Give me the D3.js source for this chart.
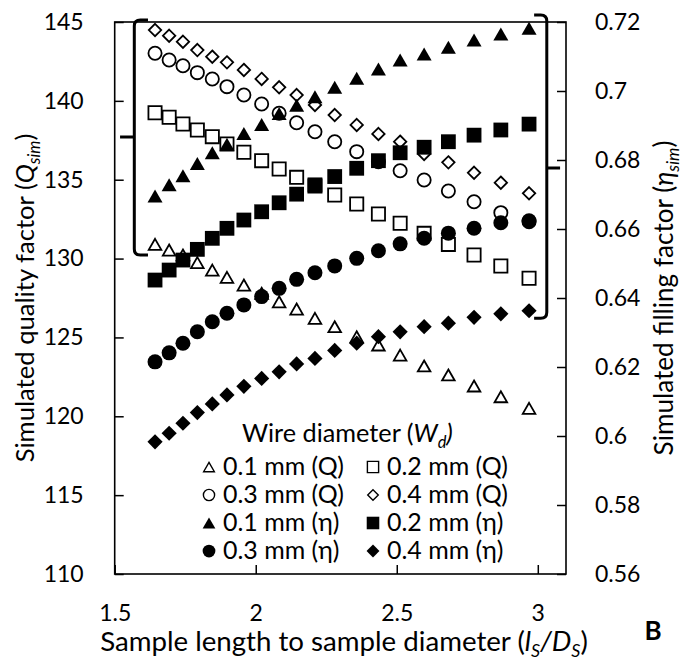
<!DOCTYPE html>
<html><head><meta charset="utf-8">
<script src="https://cdn.jsdelivr.net/npm/d3@7"></script>
<style>
body{margin:0;background:#fff}
svg{display:block}
text{font-family:Lato,"Open Sans",sans-serif;fill:#000}
</style>
</head><body>
<svg id="chart" width="683" height="664"></svg>
<script>
// ---------------- data ----------------
const xValues = [1.643, 1.693, 1.742, 1.793, 1.846, 1.898, 1.958, 2.021, 2.083, 2.145, 2.210, 2.280, 2.358, 2.435, 2.512, 2.597, 2.683, 2.774, 2.869, 2.969];
const q01 = [130.90,130.54,130.23,129.74,129.27,128.81,128.32,127.80,127.26,126.80,126.21,125.68,125.04,124.52,123.88,123.19,122.62,121.92,121.24,120.50];
const q02 = [139.25,138.96,138.53,138.15,137.73,137.26,136.74,136.21,135.68,135.15,134.60,134.03,133.46,132.83,132.24,131.60,130.90,130.23,129.53,128.75];
const q03 = [143.02,142.59,142.23,141.79,141.39,140.90,140.37,139.80,139.21,138.61,138.04,137.41,136.78,136.14,135.57,134.98,134.28,133.60,132.91,132.34];
const q04 = [144.49,144.13,143.75,143.22,142.80,142.44,141.96,141.39,140.86,140.37,139.74,139.10,138.47,137.90,137.41,136.63,136.10,135.44,134.81,134.14];
const eta01 = [0.6696,0.6728,0.6754,0.6790,0.6821,0.6846,0.6877,0.6903,0.6935,0.6959,0.6983,0.7011,0.7037,0.7064,0.7090,0.7107,0.7127,0.7148,0.7165,0.7182];
const eta02 = [0.6452,0.6481,0.6510,0.6541,0.6573,0.6602,0.6626,0.6650,0.6676,0.6701,0.6728,0.6752,0.6776,0.6798,0.6821,0.6837,0.6853,0.6872,0.6887,0.6904];
const eta03 = [0.6215,0.6241,0.6269,0.6302,0.6331,0.6356,0.6380,0.6404,0.6428,0.6454,0.6473,0.6493,0.6515,0.6537,0.6557,0.6573,0.6588,0.6602,0.6618,0.6624];
const eta04 = [0.5983,0.6008,0.6037,0.6068,0.6093,0.6119,0.6144,0.6167,0.6186,0.6209,0.6225,0.6248,0.6269,0.6288,0.6302,0.6317,0.6327,0.6344,0.6354,0.6363];

const xTicks = [1.5, 2, 2.5, 3];
const leftTicks = [110, 115, 120, 125, 130, 135, 140, 145];
const rightTicks = [0.56, 0.58, 0.6, 0.62, 0.64, 0.66, 0.68, 0.7, 0.72];
const xDomain = [1.5, 3.1];
const leftDomain = [110, 145];
const rightDomain = [0.56, 0.72];

const seriesLabels = ["0.1 mm (Q)", "0.2 mm (Q)", "0.3 mm (Q)", "0.4 mm (Q)", "0.1 mm (η)", "0.2 mm (η)", "0.3 mm (η)", "0.4 mm (η)"];
// brackets grouping the series, in data units [vertical x, serif tip x, notch tip x, top, middle, bottom]
const bracketLeft = [1.5695, 1.618, 1.519, 145.13, 137.71, 130.225];
const bracketRight = [3.0319, 2.987, 3.079, 0.72203, 0.67768, 0.63412];

// ---------------- layout ----------------
const M = {l: 114.7, r: 566, t: 22, b: 574};
const svg = d3.select("#chart");
const x = d3.scaleLinear().domain(xDomain).range([M.l, M.r]);
const yL = d3.scaleLinear().domain(leftDomain).range([M.b, M.t]);
const yR = d3.scaleLinear().domain(rightDomain).range([M.b, M.t]);

const series = [
  {v:q01, y:yL, shape:"triangle", filled:false},
  {v:q02, y:yL, shape:"square", filled:false},
  {v:q03, y:yL, shape:"circle", filled:false},
  {v:q04, y:yL, shape:"diamond", filled:false},
  {v:eta01, y:yR, shape:"triangle", filled:true},
  {v:eta02, y:yR, shape:"square", filled:true},
  {v:eta03, y:yR, shape:"circle", filled:true},
  {v:eta04, y:yR, shape:"diamond", filled:true}
].map((s,i)=>({...s, label: seriesLabels[i]}));

function markerPath(shape, filled, k){
  k = k || 1;
  if(shape==="circle"){ const r=(filled?7.5:6.6)*k; return `M${r},0A${r},${r} 0 1,1 ${-r},0A${r},${r} 0 1,1 ${r},0Z`; }
  if(shape==="square"){ const h=(filled?7.4:6.6)*k; return `M${-h},${-h}H${h}V${h}H${-h}Z`; }
  if(shape==="triangle"){ const w=(filled?15:12.6)*k, hh=(filled?13:11)*k; return `M0,${-hh/2}L${w/2},${hh/2}L${-w/2},${hh/2}Z`; }
  const d=(filled?7.6:6.2)*k; return `M0,${-d}L${d},0L0,${d}L${-d},0Z`;
}

// frame
svg.append("rect").attr("x",M.l).attr("y",M.t).attr("width",M.r-M.l).attr("height",M.b-M.t)
  .attr("fill","#fff").attr("stroke","#000").attr("stroke-width",1.6);

// axes
const tickFont = 23;
function styleAxis(g){
  g.select(".domain").remove();
  g.selectAll(".tick line").attr("stroke","#000").attr("stroke-width",1.5);
  g.selectAll(".tick text").attr("font-size",tickFont).attr("font-family","Lato, 'Open Sans', sans-serif").attr("fill","#000");
}
svg.append("g").attr("transform",`translate(${M.l},0)`)
  .call(d3.axisLeft(yL).tickValues(leftTicks).tickSize(-9).tickPadding(31).tickFormat(d3.format("d"))).call(styleAxis);
svg.append("g").attr("transform",`translate(${M.r},0)`)
  .call(d3.axisRight(yR).tickValues(rightTicks).tickSize(-9).tickPadding(29).tickFormat(d3.format("~g"))).call(styleAxis);
svg.append("g").attr("transform",`translate(0,${M.b})`)
  .call(d3.axisBottom(x).tickValues(xTicks).tickSize(-9).tickPadding(31).tickFormat(d3.format("~g"))).call(styleAxis);

// brackets
function bracketPath(b, y, dir){
  const [vx, tip, notch, top, mid, bot] = b;
  const X=x(vx), T=x(tip), N=x(notch), Y0=y(top), Ym=y(mid), Y1=y(bot), r=6*dir;
  return `M${T},${Y0}H${X+r}Q${X},${Y0} ${X},${Y0+6}V${Y1-6}Q${X},${Y1} ${X+r},${Y1}H${T}M${X},${Ym}H${N}`;
}
svg.append("path").attr("d",bracketPath(bracketLeft,yL,1)).attr("fill","none").attr("stroke","#000").attr("stroke-width",3);
svg.append("path").attr("d",bracketPath(bracketRight,yR,-1)).attr("fill","none").attr("stroke","#000").attr("stroke-width",3);

// markers
series.forEach(s=>{
  svg.append("g").selectAll("path").data(s.v).join("path")
    .attr("transform",(d,i)=>`translate(${x(xValues[i])},${s.y(d)})`)
    .attr("d",markerPath(s.shape,s.filled))
    .attr("fill",s.filled?"#000":"#fff")
    .attr("stroke","#000")
    .attr("stroke-width",s.filled?0:1.8);
});

// rich text helper
function rich(t, parts){
  let sub=false;
  parts.forEach(p=>{
    const ts=t.append("tspan").text(p.t);
    if(p.i) ts.attr("font-style","italic");
    if(p.s){ ts.attr("font-size","65%"); if(!sub) ts.attr("dy","0.35em"); sub=true; }
    else if(sub){ ts.attr("dy",(-0.35*0.65)+"em"); sub=false; }
  });
  return t;
}
function fit(t, target){
  const w=t.node().getComputedTextLength();
  const fs=parseFloat(t.attr("font-size"));
  t.attr("font-size", fs*target/w);
  return t;
}

// axis titles
const xt = svg.append("text").attr("x",344).attr("y",651).attr("text-anchor","middle").attr("font-size",24);
rich(xt,[{t:"Sample length to sample diameter ("},{t:"l",i:1},{t:"S",i:1,s:1},{t:"/",i:1},{t:"D",i:1},{t:"S",i:1,s:1},{t:")"}]);
fit(xt,488);

const lt = svg.append("text").attr("transform","translate(34,298) rotate(-90)").attr("text-anchor","middle").attr("font-size",24);
rich(lt,[{t:"Simulated quality factor ("},{t:"Q",i:1},{t:"sim",i:1,s:1},{t:")"}]);
fit(lt,329);

const rt = svg.append("text").attr("transform","translate(673,298) rotate(-90)").attr("text-anchor","middle").attr("font-size",24);
rich(rt,[{t:"Simulated filling factor ("},{t:"η",i:1},{t:"sim",i:1,s:1},{t:")"}]);
fit(rt,315);

svg.append("text").attr("x",653).attr("y",640).attr("text-anchor","middle").attr("font-size",26).attr("font-weight","bold").text("B");

// legend
const lg = svg.append("g");
const ltitle = lg.append("text").attr("x",242).attr("y",442).attr("font-size",24);
rich(ltitle,[{t:"Wire diameter ("},{t:"W",i:1},{t:"d",i:1,s:1},{t:")",i:1}]);
fit(ltitle,211);

const legendOrder = [0,2,4,6,1,3,5,7];
const colX = [223, 387];
const rowY = [475, 503, 531, 559];
let entryFont = null;
legendOrder.forEach((si,k)=>{
  const s=series[si], col=Math.floor(k/4), row=k%4;
  const tx=colX[col], ty=rowY[row];
  lg.append("path").attr("transform",`translate(${tx-14},${ty-8})`)
    .attr("d",markerPath(s.shape,s.filled,0.85))
    .attr("fill",s.filled?"#000":"#fff").attr("stroke","#000").attr("stroke-width",s.filled?0:1.4);
  const t=lg.append("text").attr("x",tx).attr("y",ty).attr("font-size",24).text(s.label);
  if(entryFont===null){ fit(t,121); entryFont=t.attr("font-size"); }
  else t.attr("font-size",entryFont);
});
</script>
</body></html>
